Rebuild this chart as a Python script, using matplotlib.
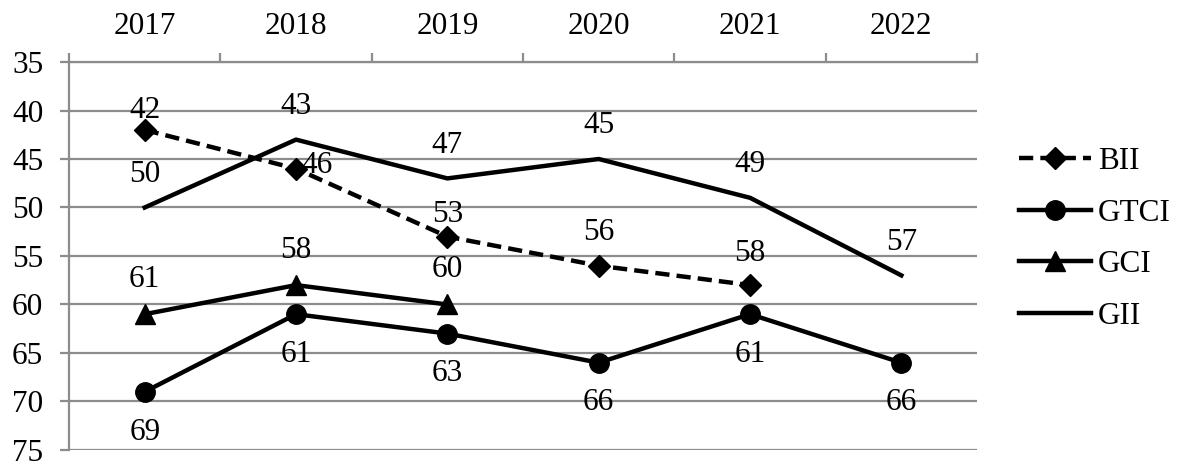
import matplotlib.pyplot as plt
import numpy as np

plt.rcParams['font.family'] = ['Liberation Serif', 'DejaVu Serif']

years = ['2017', '2018', '2019', '2020', '2021', '2022']
bii = [42, 46, 53, 56, 58, None]
gtci = [69, 61, 63, 66, 61, 66]
gci = [61, 58, 60, None, None, None]
gii = [50, 43, 47, 45, 49, 57]

x = np.arange(len(years))


def as_array(vals):
    return np.array([np.nan if v is None else v for v in vals], dtype=float)


fig = plt.figure(figsize=(11.84, 4.68), dpi=100)
ax = fig.add_axes([0.0583, 0.0385, 0.7669, 0.829])

grid_col = '#8c8c8c'
fs = 22.5
lw = 3.2

ax.plot(x, as_array(bii), color='black', lw=lw, ls=(0, (3.2, 1.6)),
        marker='D', ms=11, label='BII')
ax.plot(x, as_array(gtci), color='black', lw=lw, marker='o', ms=14, label='GTCI')
ax.plot(x, as_array(gci), color='black', lw=lw, marker='^', ms=14, label='GCI')
ax.plot(x, as_array(gii), color='black', lw=lw, label='GII')


def label(i, v, dx, dy):
    ax.annotate(str(v), (i, v), xytext=(dx, dy), textcoords='offset points',
                ha='center', va='center', fontsize=fs)


# data labels: BII mostly just above the marker, 2018 one to the right
bii_offsets = [(0, 14), (15, 2), (0, 16), (0, 24), (0, 23), None]
for i, v in enumerate(bii):
    if v is not None:
        label(i, v, *bii_offsets[i])
for i, v in enumerate(gii):
    label(i, v, 0, 24)
for i, v in enumerate(gci):
    if v is not None:
        label(i, v, 0, 25)
for i, v in enumerate(gtci):
    label(i, v, 0, -29)

ax.set_xlim(-0.5, len(years) - 0.5)
ax.set_ylim(75, 35)
ax.set_yticks(np.arange(35, 80, 5))
ax.yaxis.grid(True, color=grid_col, lw=1.6)
ax.set_axisbelow(True)

ax.xaxis.tick_top()
ax.set_xticks(x)
ax.set_xticklabels(years, fontsize=fs)
ax.set_xticks(np.arange(-0.5, len(years)), minor=True)
ax.tick_params(axis='x', which='major', length=0, pad=15)
ax.tick_params(axis='x', which='minor', length=6.5, width=1.6, color=grid_col)
ax.tick_params(axis='y', labelsize=fs, length=6.5, width=1.6, color=grid_col, pad=12)

for side in ['right', 'bottom']:
    ax.spines[side].set_visible(False)
for side in ['left', 'top']:
    ax.spines[side].set_color(grid_col)
    ax.spines[side].set_linewidth(1.6)

leg = fig.legend(loc='center left', bbox_to_anchor=(0.8606, 0.489), frameon=False,
                 fontsize=fs, handlelength=2.3, handletextpad=0.23,
                 labelspacing=0.72, borderpad=0, borderaxespad=0)

fig.savefig('out.png', dpi=100)
